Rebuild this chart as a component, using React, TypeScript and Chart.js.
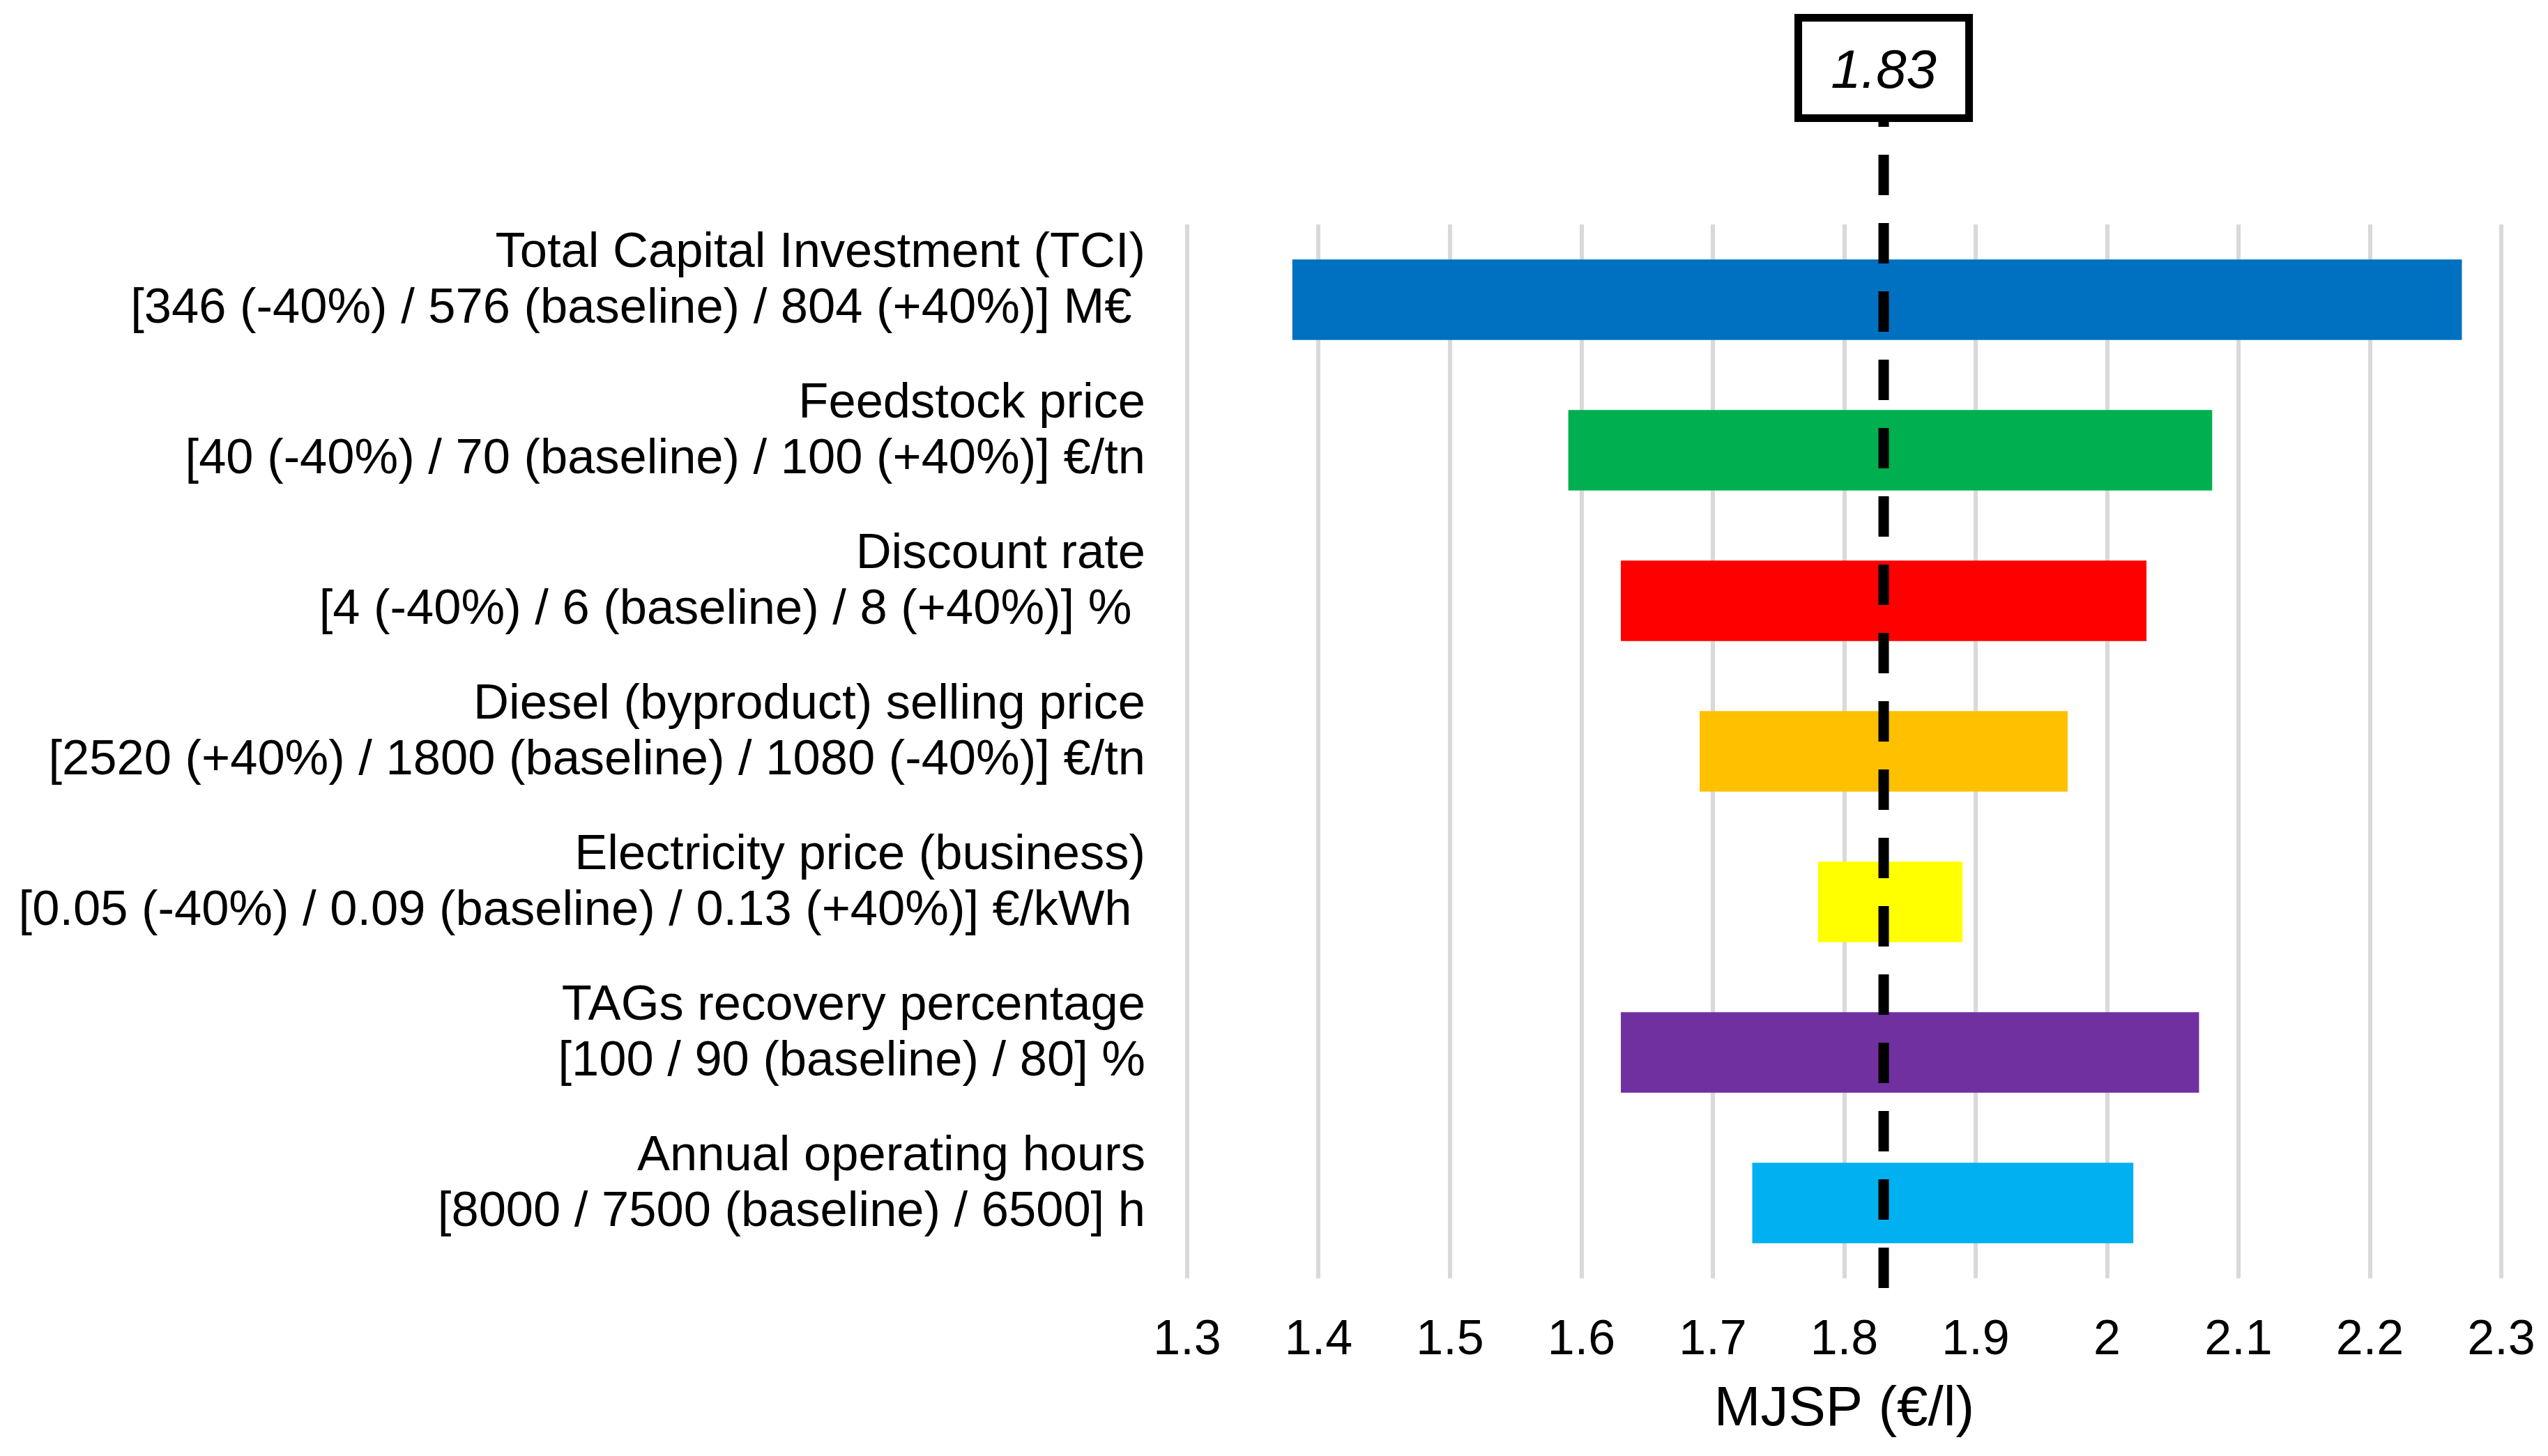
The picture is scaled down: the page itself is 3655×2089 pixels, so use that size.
import React, { useEffect, useRef } from "react";
import { Chart, registerables } from "chart.js";

Chart.register(...registerables);

// ---------- data ----------
const CATEGORIES: string[][] = [
  ["Total Capital Investment (TCI)", "[346 (-40%) / 576 (baseline) / 804 (+40%)] M€ "],
  ["Feedstock price", "[40 (-40%) / 70 (baseline) / 100 (+40%)] €/tn"],
  ["Discount rate", "[4 (-40%) / 6 (baseline) / 8 (+40%)] % "],
  ["Diesel (byproduct) selling price", "[2520 (+40%) / 1800 (baseline) / 1080 (-40%)] €/tn"],
  ["Electricity price (business)", "[0.05 (-40%) / 0.09 (baseline) / 0.13 (+40%)] €/kWh "],
  ["TAGs recovery percentage", "[100 / 90 (baseline) / 80] %"],
  ["Annual operating hours", "[8000 / 7500 (baseline) / 6500] h"],
];
const LOW_VALUES = [1.38, 1.59, 1.63, 1.69, 1.78, 1.63, 1.73];
const HIGH_VALUES = [2.27, 2.08, 2.03, 1.97, 1.89, 2.07, 2.02];
const BASELINE_MJSP = 1.83;
const X_TICKS = [1.3, 1.4, 1.5, 1.6, 1.7, 1.8, 1.9, 2.0, 2.1, 2.2, 2.3];
const X_TITLE = "MJSP (€/l)";

// ---------- styles ----------
const BAR_COLORS = ["#0070C0", "#00B050", "#FF0000", "#FFC000", "#FFFF00", "#7030A0", "#00B0F0"];
const FONT = '"Liberation Sans", Arial, Helvetica, sans-serif';

const baselinePlugin = {
  id: "baselineMarker",
  afterDatasetsDraw(chart: any) {
    const { ctx, chartArea } = chart;
    const xs = chart.scales.x;
    const px = xs.getPixelForValue(BASELINE_MJSP);
    ctx.save();
    // dashed vertical line
    ctx.beginPath();
    ctx.setLineDash([58, 40]);
    ctx.lineWidth = 15;
    ctx.lineCap = "butt";
    ctx.strokeStyle = "#000";
    ctx.moveTo(px, chartArea.top - 198);
    ctx.lineTo(px, chartArea.bottom + 15);
    ctx.stroke();
    ctx.setLineDash([]);
    // value box
    const w = 245;
    const h = 144;
    const top = chartArea.top - 296.5;
    ctx.fillStyle = "#fff";
    ctx.fillRect(px - w / 2, top, w, h);
    ctx.lineWidth = 11;
    ctx.strokeStyle = "#000";
    ctx.strokeRect(px - w / 2, top, w, h);
    ctx.font = `italic 78px ${FONT}`;
    ctx.textAlign = "center";
    ctx.textBaseline = "middle";
    ctx.fillStyle = "#000";
    ctx.fillText(BASELINE_MJSP.toFixed(2), px, top + h / 2 + 7);
    ctx.restore();
  },
};

export default function App() {
  const ref = useRef<HTMLCanvasElement | null>(null);

  useEffect(() => {
    if (!ref.current) return;
    const chart = new Chart(ref.current, {
      type: "bar",
      data: {
        labels: CATEGORIES,
        datasets: [
          {
            data: LOW_VALUES.map((lo, i) => [lo, HIGH_VALUES[i]]),
            backgroundColor: BAR_COLORS,
            borderWidth: 0,
            categoryPercentage: 1,
            barPercentage: 0.535,
          },
        ],
      },
      options: {
        indexAxis: "y",
        animation: false,
        responsive: true,
        maintainAspectRatio: false,
        devicePixelRatio: 1,
        layout: { padding: { top: 322, right: 67, left: 0, bottom: 0 } },
        plugins: {
          legend: { display: false },
          tooltip: { enabled: false },
        },
        scales: {
          x: {
            type: "linear",
            min: 1.3,
            max: 2.3,
            afterBuildTicks: (scale: any) => {
              scale.ticks = X_TICKS.map((v) => ({ value: v }));
            },
            afterFit: (scale: any) => {
              scale.height = 255;
            },
            grid: {
              color: "#d9d9d9",
              lineWidth: 6,
              drawTicks: true,
              tickLength: 48,
              tickColor: "rgba(0,0,0,0)",
            },
            border: { display: false },
            ticks: {
              padding: 0,
              color: "#000",
              font: { family: FONT, size: 70 },
              callback: (v: any) => String(Math.round(Number(v) * 10) / 10),
              maxRotation: 0,
              autoSkip: false,
            },
            title: {
              display: true,
              text: X_TITLE,
              color: "#000",
              font: { family: FONT, size: 80 },
              padding: { top: 0, bottom: 18 },
            },
          },
          y: {
            type: "category",
            afterFit: (scale: any) => {
              scale.width = 1703;
            },
            grid: { display: false, drawTicks: false },
            border: { display: false },
            ticks: {
              padding: 60,
              labelOffset: -26,
              color: "#000",
              font: { family: FONT, size: 70.5, lineHeight: 80 / 70.5 },
              autoSkip: false,
            },
          },
        },
      },
      plugins: [baselinePlugin],
    } as any);
    return () => chart.destroy();
  }, []);

  return (
    <div style={{ position: "fixed", left: 0, top: 0, width: "3655px", height: "2089px", background: "#fff" }}>
      <canvas ref={ref} style={{ width: "100%", height: "100%" }} />
    </div>
  );
}
